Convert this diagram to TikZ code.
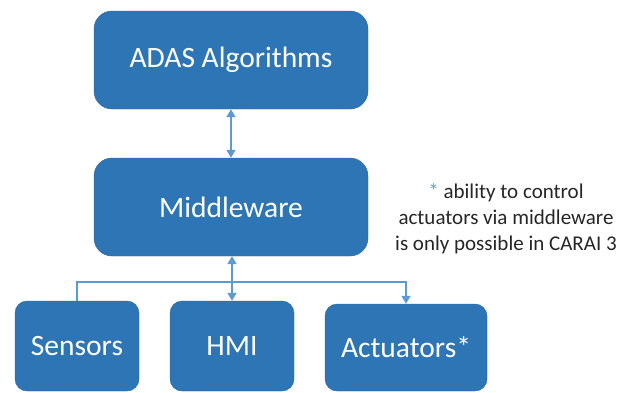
\documentclass[tikz,border=0pt]{standalone}
\usepackage{fontspec}
\setmainfont{Carlito}
\usetikzlibrary{arrows.meta}
\definecolor{boxblue}{HTML}{2E75B6}
\definecolor{linkblue}{HTML}{5B9BD5}
\tikzset{
  block/.style={rectangle, rounded corners=18pt, fill=boxblue, draw=boxblue!85!black, line width=0.4pt,
    text=white, font=\fontsize{29.5}{34}\selectfont, inner sep=0pt},
  small/.style={block, rounded corners=12pt},
  link/.style={draw=linkblue, line width=1.8pt, {Triangle[length=8pt,width=9pt]}-{Triangle[length=8pt,width=9pt]}},
  bus/.style={draw=linkblue, line width=1.8pt},
  note/.style={align=center, font=\fontsize{21}{26}\selectfont, text=black!85}
}
\begin{document}
\begin{tikzpicture}[x=1pt,y=-1pt]
\useasboundingbox (0,0) rectangle (619,392);
\node[block, minimum width=274pt, minimum height=98pt] (adas) at (231,60) {ADAS Algorithms};
\node[block, minimum width=274pt, minimum height=98pt] (mw) at (231,207) {Middleware};
\node[small, minimum width=124pt, minimum height=90pt] (sens) at (77,346) {Sensors};
\node[small, minimum width=124pt, minimum height=90pt] (hmi) at (232,346) {HMI};
\node[small, minimum width=162pt, minimum height=87pt] (act) at (406,347.5) {Actuators*};
\node[note] (remark) at (506,219) {{\color{linkblue}*} ability to control\\actuators via middleware\\is only possible in CARAI 3};
\coordinate (busmid) at (232,282);
\draw[link] (adas.south) -- (mw.north);
\draw[link] (mw.south -| hmi.north) -- (hmi.north);
\draw[bus, -{Triangle[length=8pt,width=9pt]}] (sens.north) |- (busmid) -| (act.north);
\end{tikzpicture}
\end{document}
